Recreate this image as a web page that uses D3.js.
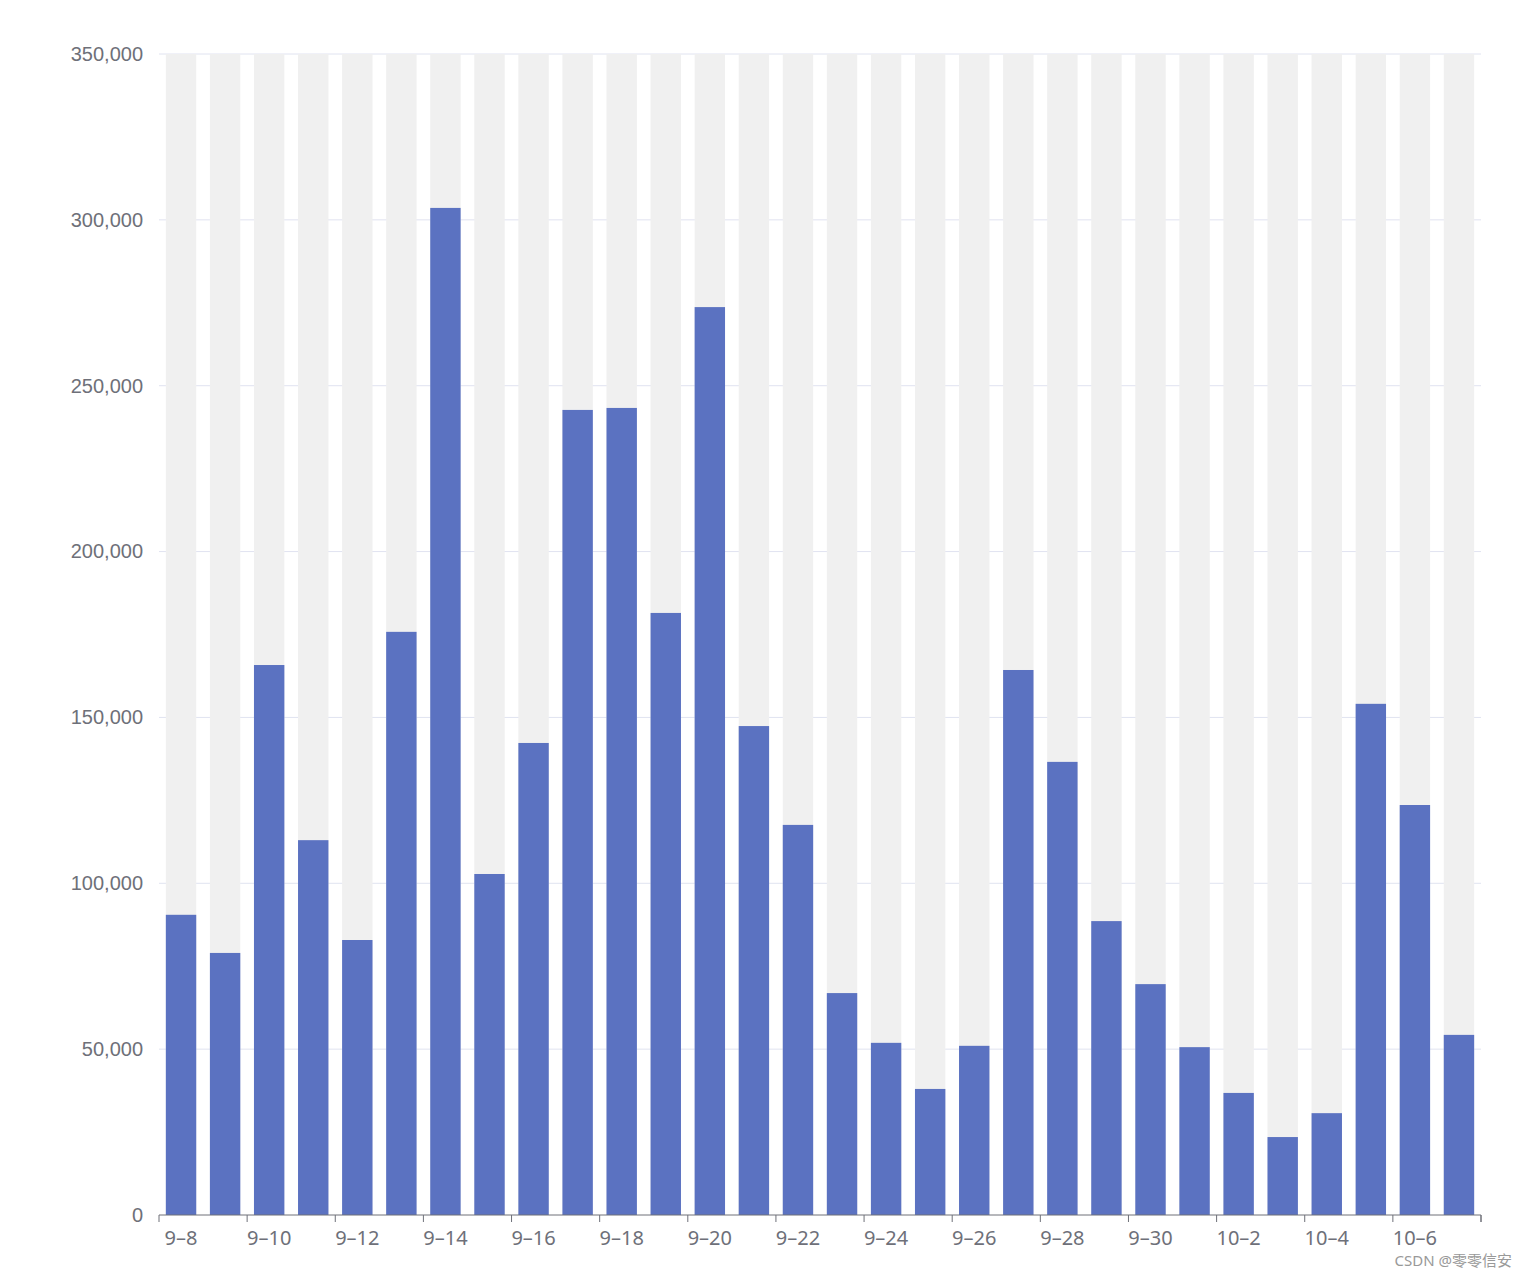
<!DOCTYPE html>
<html><head><meta charset="utf-8">
<script src="https://cdn.jsdelivr.net/npm/d3@7"></script>
<style>body{margin:0;background:#fff;font-family:"Noto Sans","Noto Sans CJK SC",sans-serif}</style>
</head><body><div id="container"></div>
<script>
var categories=['9-8','9-9','9-10','9-11','9-12','9-13','9-14','9-15','9-16','9-17','9-18','9-19','9-20','9-21','9-22','9-23','9-24','9-25','9-26','9-27','9-28','9-29','9-30','10-1','10-2','10-3','10-4','10-5','10-6','10-7'];
var values=[90500,79000,165800,113000,82900,175800,303600,102800,142300,242700,243300,181500,273700,147400,117600,66900,51900,38000,51000,164300,136600,88600,69600,50600,36800,23500,30700,154100,123600,54300];
var yTicks=[0,50000,100000,150000,200000,250000,300000,350000];

(function(){
var width=1528,height=1278;
var mLeft=159,mRight=1481,mTop=54,mBottom=1215;
var svg=d3.select('#container').append('svg').attr('width',width).attr('height',height);

var x=d3.scaleBand().domain(categories).range([mLeft,mRight]).paddingInner(0.31).paddingOuter(0.155);
var y=d3.scaleLinear().domain([0,350000]).range([mBottom,mTop]);

svg.append('g').selectAll('line').data(yTicks.slice(1)).enter().append('line')
  .attr('x1',mLeft).attr('x2',mRight).attr('y1',d=>y(d)).attr('y2',d=>y(d))
  .attr('stroke','#e0e3f0').attr('stroke-width',1);

svg.append('g').selectAll('rect').data(categories).enter().append('rect')
  .attr('x',d=>x(d)).attr('width',x.bandwidth()).attr('y',mTop).attr('height',mBottom-mTop)
  .attr('fill','#f0f0f0');

svg.append('g').selectAll('rect').data(values).enter().append('rect')
  .attr('x',(d,i)=>x(categories[i])).attr('width',x.bandwidth())
  .attr('y',d=>y(d)).attr('height',d=>mBottom-y(d)).attr('fill','#5b72c1');

var yAxis=d3.axisLeft(y).tickValues(yTicks).tickFormat(d3.format(',')).tickSize(0).tickPadding(16);
svg.append('g').attr('transform','translate('+mLeft+',0)').call(yAxis)
  .call(g=>g.select('.domain').remove())
  .selectAll('text').attr('fill','#6e7079').style('font-size','20px');

var step=x.step();
var ax=svg.append('g');
ax.append('line').attr('x1',mLeft).attr('x2',mRight).attr('y1',mBottom).attr('y2',mBottom).attr('stroke','#6e7079');
var tickIdx=d3.range(0,categories.length+1,2);
ax.selectAll('.tk').data(tickIdx).enter().append('line')
  .attr('x1',i=>mLeft+i*step).attr('x2',i=>mLeft+i*step).attr('y1',mBottom).attr('y2',mBottom+7).attr('stroke','#6e7079');
ax.append('line').attr('x1',mRight).attr('x2',mRight).attr('y1',mBottom).attr('y2',mBottom+7).attr('stroke','#6e7079');
ax.selectAll('text').data(categories.filter((c,i)=>i%2==0)).enter().append('text')
  .attr('x',d=>x(d)+x.bandwidth()/2).attr('y',mBottom+30).attr('text-anchor','middle')
  .attr('fill','#6e7079').style('font-size','20px').text(d=>d.replace('-','–'));

svg.append('text').attr('x',1512).attr('y',1266).attr('text-anchor','end')
  .attr('fill','#999').style('font-size','15px').text('CSDN @零零信安');
})();
</script></body></html>
